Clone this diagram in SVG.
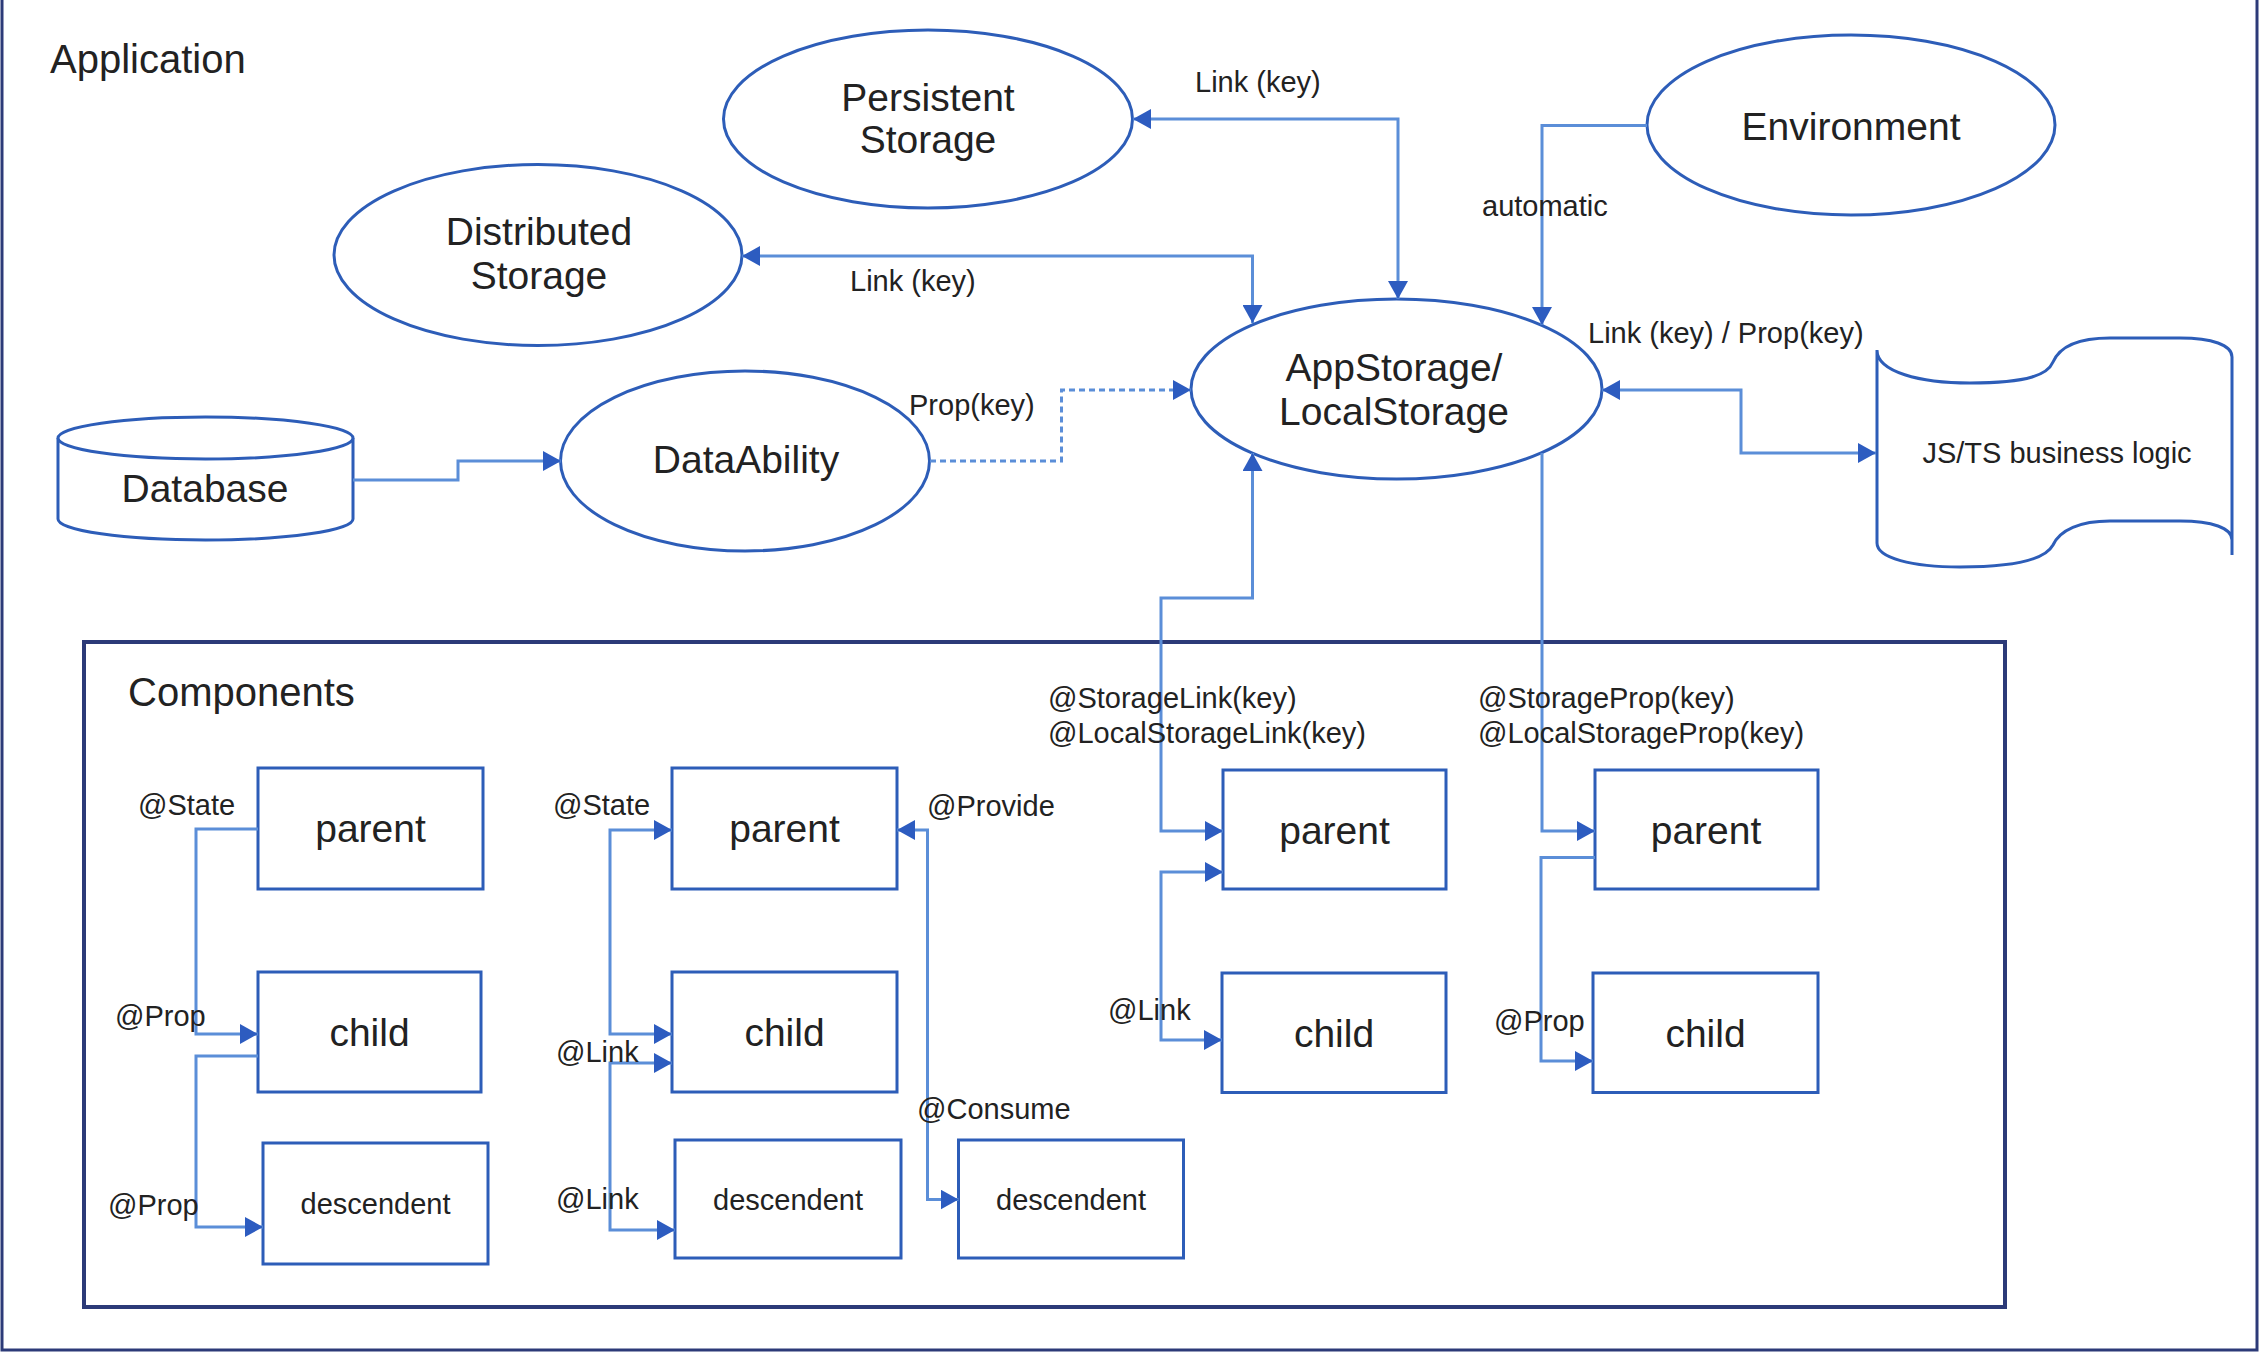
<svg xmlns="http://www.w3.org/2000/svg" width="2260" height="1352" viewBox="0 0 2260 1352">
<style>
  .bg { fill: #ffffff; }
  .frame { fill: none; stroke: #2c3a78; stroke-width: 3; }
  .cbox { fill: none; stroke: #2c3a78; stroke-width: 4; }
  .node { fill: #ffffff; stroke: #2d5db8; stroke-width: 3; }
  .conn { fill: none; stroke: #5b8ed8; stroke-width: 3; }
  .dot { stroke-dasharray: 6 4; }
  text { font-family: "Liberation Sans", Arial, sans-serif; fill: #222222; }
  .title { font-size: 40px; }
  .nt { font-size: 39px; text-anchor: middle; }
  .dt { font-size: 29px; text-anchor: middle; }
  .lbl { font-size: 29px; }
</style>
<defs>
  <marker id="arr" markerUnits="userSpaceOnUse" markerWidth="18" markerHeight="20" refX="18" refY="10" orient="auto-start-reverse" viewBox="0 0 18 20">
    <path d="M0,0 L18,10 L0,20 Z" fill="#2d5cc0"/>
  </marker>
</defs>
<rect class="bg" x="0" y="0" width="2260" height="1352"/>
<rect class="frame" x="2" y="-5" width="2255" height="1355"/>

<text class="title" x="50" y="73">Application</text>

<g id="persistent">
  <ellipse class="node" cx="928" cy="119" rx="204.5" ry="89"/>
  <text class="nt" x="928" y="111">Persistent</text>
  <text class="nt" x="928" y="153">Storage</text>
</g>
<g id="distributed">
  <ellipse class="node" cx="538" cy="255" rx="204" ry="90.5"/>
  <text class="nt" x="539" y="245">Distributed</text>
  <text class="nt" x="539" y="289">Storage</text>
</g>
<g id="dataability">
  <ellipse class="node" cx="745" cy="461" rx="184.5" ry="90"/>
  <text class="nt" x="746" y="473">DataAbility</text>
</g>
<g id="database">
  <path class="node" d="M58,438 A147.5,21 0 0,1 353,438 V519 A147.5,21 0 0,1 58,519 Z"/>
  <path class="node" d="M58,438 A147.5,21 0 0,0 353,438" fill="none"/>
  <text class="nt" x="205" y="502">Database</text>
</g>
<g id="appstorage">
  <ellipse class="node" cx="1396.5" cy="389" rx="205.5" ry="90"/>
  <text class="nt" x="1394" y="381">AppStorage/</text>
  <text class="nt" x="1394" y="425">LocalStorage</text>
</g>
<g id="environment">
  <ellipse class="node" cx="1851" cy="125" rx="204" ry="90"/>
  <text class="nt" x="1851" y="140">Environment</text>
</g>
<g id="jsts">
  <path class="node" d="M1877,350 C1877,372 1920,383 1970,383 C2030,383 2048,374 2053,362 C2060,346 2080,338 2110,338 L2180,338 C2212,338 2232,345 2232,357 L2232,540 C2232,528 2212,521 2180,521 L2110,521 C2080,521 2060,530 2053,545 C2046,558 2020,567 1960,567 C1912,567 1877,558 1877,543 Z"/>
  <path class="node" d="M2232,540 V555" fill="none"/>
  <text class="lbl" x="2057" y="463" text-anchor="middle">JS/TS business logic</text>
</g>

<g id="components">
  <rect class="cbox" x="84" y="642" width="1921" height="665"/>
  <text class="title" x="128" y="706">Components</text>
</g>

<g id="c1-parent"><rect class="node" x="258" y="768" width="225" height="121"/><text class="nt" x="370.5" y="842">parent</text></g>
<g id="c1-child"><rect class="node" x="258" y="972" width="223" height="120"/><text class="nt" x="369.5" y="1046">child</text></g>
<g id="c1-desc"><rect class="node" x="263" y="1143" width="225" height="121"/><text class="dt" x="375.5" y="1214">descendent</text></g>

<g id="c2-parent"><rect class="node" x="672" y="768" width="225" height="121"/><text class="nt" x="784.5" y="842">parent</text></g>
<g id="c2-child"><rect class="node" x="672" y="972" width="225" height="120"/><text class="nt" x="784.5" y="1046">child</text></g>
<g id="c2-desc"><rect class="node" x="675" y="1140" width="226" height="118"/><text class="dt" x="788" y="1210">descendent</text></g>
<g id="c2-consume-desc"><rect class="node" x="958.5" y="1140" width="225" height="118"/><text class="dt" x="1071" y="1210">descendent</text></g>

<g id="c3-parent"><rect class="node" x="1223" y="770" width="223" height="119"/><text class="nt" x="1334.5" y="844">parent</text></g>
<g id="c3-child"><rect class="node" x="1222" y="973" width="224" height="119.5"/><text class="nt" x="1334" y="1047">child</text></g>

<g id="c4-parent"><rect class="node" x="1595" y="770" width="223" height="119"/><text class="nt" x="1706" y="844">parent</text></g>
<g id="c4-child"><rect class="node" x="1593" y="973" width="225" height="119.5"/><text class="nt" x="1705.5" y="1047">child</text></g>

<g id="connectors">
  <path class="conn" d="M1133,119 H1398 V299" marker-start="url(#arr)" marker-end="url(#arr)"/>
  <path class="conn" d="M742,256 H1252.5 V323" marker-start="url(#arr)" marker-end="url(#arr)"/>
  <path class="conn" d="M1647,125.5 H1542 V325" marker-end="url(#arr)"/>
  <path class="conn" d="M1602,390 H1741 V453 H1876" marker-start="url(#arr)" marker-end="url(#arr)"/>
  <path class="conn dot" d="M930,461 H1061.5 V390 H1191" marker-end="url(#arr)"/>
  <path class="conn" d="M353,480 H458 V461 H561" marker-end="url(#arr)"/>
  <path class="conn" d="M1252.5,453 V598 H1161 V831 H1223" marker-start="url(#arr)" marker-end="url(#arr)"/>
  <path class="conn" d="M1223,872 H1161 V1040 H1222" marker-start="url(#arr)" marker-end="url(#arr)"/>
  <path class="conn" d="M1542,453 V831 H1595" marker-end="url(#arr)"/>
  <path class="conn" d="M1595,857.5 H1541 V1061 H1593" marker-end="url(#arr)"/>
  <path class="conn" d="M258,829 H196 V1034 H258" marker-end="url(#arr)"/>
  <path class="conn" d="M258,1056 H196 V1227 H263" marker-end="url(#arr)"/>
  <path class="conn" d="M672,830 H610 V1034 H672" marker-start="url(#arr)" marker-end="url(#arr)"/>
  <path class="conn" d="M672,1063 H610 V1230 H675" marker-start="url(#arr)" marker-end="url(#arr)"/>
  <path class="conn" d="M897,830 H927.5 V1199.5 H958.5" marker-start="url(#arr)" marker-end="url(#arr)"/>

  <text class="lbl" x="1195" y="92">Link (key)</text>
  <text class="lbl" x="1482" y="216">automatic</text>
  <text class="lbl" x="850" y="291">Link (key)</text>
  <text class="lbl" x="909" y="415">Prop(key)</text>
  <text class="lbl" x="1588" y="343">Link (key) / Prop(key)</text>

  <text class="lbl" x="138" y="815">@State</text>
  <text class="lbl" x="115" y="1026">@Prop</text>
  <text class="lbl" x="108" y="1215">@Prop</text>
  <text class="lbl" x="553" y="815">@State</text>
  <text class="lbl" x="556" y="1062">@Link</text>
  <text class="lbl" x="556" y="1209">@Link</text>
  <text class="lbl" x="927" y="816">@Provide</text>
  <text class="lbl" x="917" y="1119">@Consume</text>
  <text class="lbl" x="1048" y="708">@StorageLink(key)</text>
  <text class="lbl" x="1048" y="743">@LocalStorageLink(key)</text>
  <text class="lbl" x="1108" y="1020">@Link</text>
  <text class="lbl" x="1478" y="708">@StorageProp(key)</text>
  <text class="lbl" x="1478" y="743">@LocalStorageProp(key)</text>
  <text class="lbl" x="1494" y="1031">@Prop</text>
</g>
</svg>
